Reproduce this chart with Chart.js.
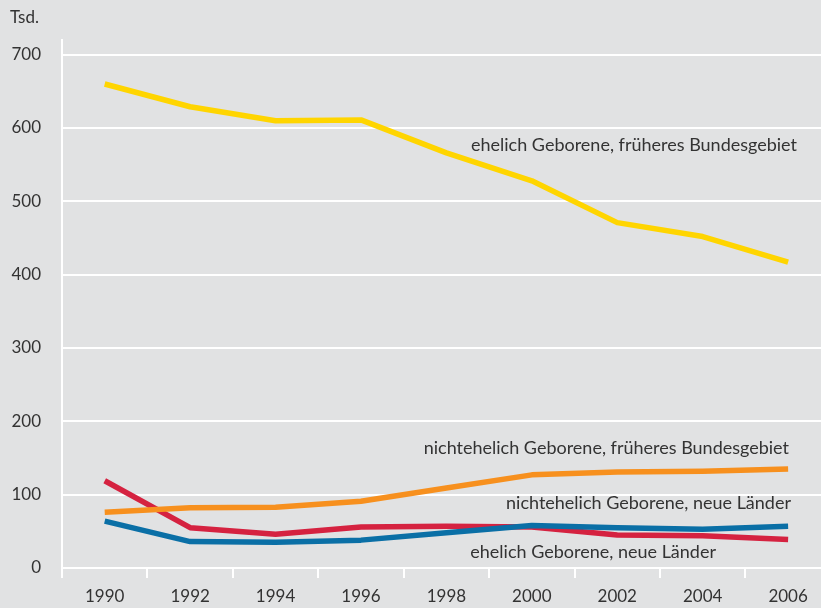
<!DOCTYPE html>
<html>
<head>
<meta charset="utf-8">
<script src="https://cdn.jsdelivr.net/npm/chart.js@4.4.0/dist/chart.umd.min.js"></script>
<style>
  html, body { margin: 0; padding: 0; background: #e1e2e3; }
  #wrap { width: 821px; height: 608px; position: relative; }
</style>
</head>
<body>
<div id="wrap"><canvas id="chart" width="821" height="608"></canvas></div>
<script>
// Jahre und Werte (Tsd.)
const jahre = [1990, 1992, 1994, 1996, 1998, 2000, 2002, 2004, 2006];
const ehelichFrueher = [660, 629, 610, 611, 566, 528, 471, 452, 417];
const nichtehelichFrueher = [76, 82, 83, 91, 109, 127, 131, 132, 135];
const nichtehelichNeu = [119, 55, 46, 56, 57, 56, 45, 44, 39];
const ehelichNeu = [64, 36, 35, 38, 48, 58, 55, 53, 57];
const yTicks = [0, 100, 200, 300, 400, 500, 600, 700];

const schrift = 'Lato, "Open Sans", sans-serif';
const textFarbe = '#333';

function punkte(werte) {
  return werte.map((v, i) => ({ x: jahre[i], y: v }));
}

// Beschriftungen direkt an den Linien
const beschriftungen = [
  { text: 'ehelich Geborene, früheres Bundesgebiet', x: 797, y: 145 },
  { text: 'nichtehelich Geborene, früheres Bundesgebiet', x: 789, y: 448 },
  { text: 'nichtehelich Geborene, neue Länder', x: 791, y: 503 },
  { text: 'ehelich Geborene, neue Länder', x: 716, y: 552 }
];

const textPlugin = {
  id: 'textPlugin',
  afterDraw(chart) {
    const ctx = chart.ctx;
    ctx.save();
    ctx.fillStyle = textFarbe;
    ctx.font = '18px ' + schrift;
    ctx.textBaseline = 'middle';
    ctx.textAlign = 'right';
    beschriftungen.forEach(b => ctx.fillText(b.text, b.x, b.y));
    ctx.font = '17px ' + schrift;
    ctx.textAlign = 'left';
    ctx.fillText('Tsd.', 10, 18);
    ctx.restore();
  }
};

const linie = (label, werte, farbe) => ({
  label: label,
  data: punkte(werte),
  borderColor: farbe,
  backgroundColor: farbe,
  borderWidth: 5.5,
  pointRadius: 0,
  tension: 0,
  borderCapStyle: 'butt',
  borderJoinStyle: 'round'
});

const ctx = document.getElementById('chart').getContext('2d');
new Chart(ctx, {
  type: 'line',
  data: {
    datasets: [
      linie('ehelich Geborene, früheres Bundesgebiet', ehelichFrueher, '#ffd500'),
      linie('nichtehelich Geborene, früheres Bundesgebiet', nichtehelichFrueher, '#f7901e'),
      linie('ehelich Geborene, neue Länder', ehelichNeu, '#0a6fa6'),
      linie('nichtehelich Geborene, neue Länder', nichtehelichNeu, '#d52240')
    ]
  },
  options: {
    responsive: false,
    animation: false,
    layout: { padding: { top: 40, right: 0, left: 0, bottom: 0 } },
    plugins: {
      legend: { display: false },
      tooltip: { enabled: false }
    },
    scales: {
      x: {
        type: 'linear',
        min: 1989,
        max: 2006.77,
        afterBuildTicks: axis => {
          const t = [];
          for (let j = 1989; j <= 2006; j++) t.push({ value: j });
          axis.ticks = t;
        },
        afterFit: axis => { axis.height = 40; },
        border: { display: false },
        grid: {
          drawOnChartArea: false,
          drawTicks: true,
          tickLength: 10,
          lineWidth: 2,
          color: c => (c.tick && c.tick.value % 2 === 1) ? '#ffffff' : 'rgba(0,0,0,0)'
        },
        ticks: {
          autoSkip: false,
          maxRotation: 0,
          padding: 8,
          color: textFarbe,
          font: { family: schrift, size: 17 },
          callback: v => (v % 2 === 0 ? String(v) : '')
        }
      },
      y: {
        min: 0,
        max: 720,
        afterBuildTicks: axis => {
          axis.ticks = yTicks.map(v => ({ value: v }));
        },
        afterFit: axis => { axis.width = 62; },
        border: { display: true, color: '#ffffff', width: 2 },
        grid: {
          drawTicks: false,
          color: '#ffffff',
          lineWidth: 2
        },
        ticks: {
          padding: 21,
          color: textFarbe,
          font: { family: schrift, size: 17 }
        }
      }
    }
  },
  plugins: [textPlugin]
});
</script>
</body>
</html>
